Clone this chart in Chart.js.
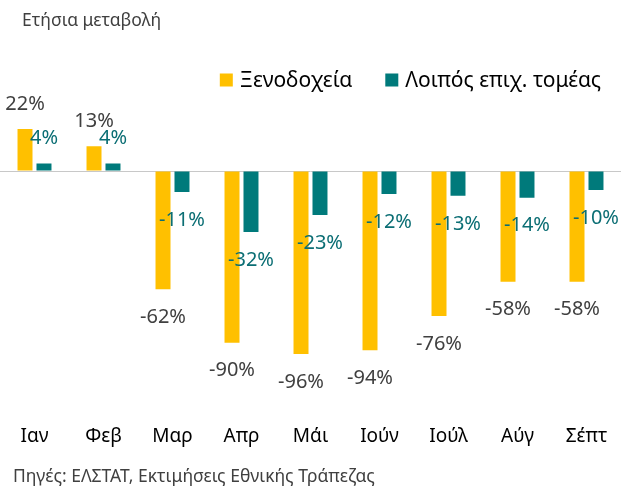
<!DOCTYPE html>
<html>
<head>
<meta charset="utf-8">
<script src="https://cdn.jsdelivr.net/npm/chart.js@4.4.1/dist/chart.umd.min.js"></script>
<style>
  html, body { margin: 0; padding: 0; background: #fff; }
  #wrap { width: 623px; height: 489px; }
</style>
</head>
<body>
<div id="wrap"><canvas id="chart"></canvas></div>
<script>
// data
const months = ['Ιαν', 'Φεβ', 'Μαρ', 'Απρ', 'Μάι', 'Ιούν', 'Ιούλ', 'Αύγ', 'Σέπτ'];
const hotels = [22, 13, -62, -90, -96, -94, -76, -58, -58];
const otherBusiness = [4, 4, -11, -32, -23, -12, -13, -14, -10];
const titleText = 'Ετήσια μεταβολή';
const sourceText = 'Πηγές: ΕΛΣΤΑΤ, Εκτιμήσεις Εθνικής Τράπεζας';

const YELLOW = '#FFC000';
const TEAL = '#007A7B';
const FONT = "'Noto Sans', 'DejaVu Sans', sans-serif";

// value labels on top/below bars
const valueLabels = {
    id: 'valueLabels',
    afterDatasetsDraw(chart) {
        const ctx = chart.ctx;
        ctx.save();
        ctx.font = '20px ' + FONT;
        ctx.textAlign = 'center';
        ctx.textBaseline = 'middle';
        chart.data.datasets.forEach((ds, i) => {
            const meta = chart.getDatasetMeta(i);
            meta.data.forEach((bar, j) => {
                const v = ds.data[j];
                const y = v >= 0 ? bar.y - 25 : bar.y + 28;
                ctx.fillStyle = ds.labelColor;
                ctx.fillText(v + '%', bar.x, y);
            });
        });
        ctx.restore();
    }
};

// title, source note and a right aligned legend
const decorations = {
    id: 'decorations',
    afterDraw(chart) {
        const ctx = chart.ctx;
        ctx.save();
        ctx.textBaseline = 'middle';
        ctx.fillStyle = '#404040';
        ctx.font = '17.5px ' + FONT;
        ctx.fillText(titleText, 22, 21);
        ctx.fillText(sourceText, 13, 477);

        ctx.font = '21px ' + FONT;
        const box = 13, gap = 7, between = 33, yMid = 80, xEnd = 601;
        const items = chart.data.datasets.map(ds => ({ text: ds.label, color: ds.backgroundColor, w: ctx.measureText(ds.label).width }));
        const total = items.reduce((s, it) => s + box + gap + it.w, 0) + between * (items.length - 1);
        let x = xEnd - total;
        items.forEach(it => {
            ctx.fillStyle = it.color;
            ctx.fillRect(x, yMid - box / 2, box, box);
            ctx.fillStyle = '#000';
            ctx.fillText(it.text, x + box + gap, yMid + 1);
            x += box + gap + it.w + between;
        });
        ctx.restore();
    }
};

new Chart(document.getElementById('chart'), {
    type: 'bar',
    data: {
        labels: months,
        datasets: [
            { label: 'Ξενοδοχεία', data: hotels, backgroundColor: YELLOW, labelColor: '#404040',
              categoryPercentage: 0.55, barPercentage: 0.79 },
            { label: 'Λοιπός επιχ. τομέας', data: otherBusiness, backgroundColor: TEAL, labelColor: '#0B6E74',
              categoryPercentage: 0.55, barPercentage: 0.79 }
        ]
    },
    options: {
        responsive: true,
        maintainAspectRatio: false,
        animation: false,
        layout: { padding: { top: 100, left: 0, right: 2, bottom: 33 } },
        plugins: {
            legend: { display: false },
            tooltip: { enabled: false }
        },
        scales: {
            x: {
                grid: { display: false },
                border: { display: false },
                ticks: { color: '#000', font: { family: FONT, size: 19 }, padding: 8 }
            },
            y: {
                min: -124.9,
                max: 37.25,
                ticks: { display: false },
                border: { display: false },
                afterBuildTicks: axis => { axis.ticks = [{ value: 0 }]; },
                grid: { drawTicks: false, color: '#C8C8C8', lineWidth: 1 }
            }
        }
    },
    plugins: [valueLabels, decorations]
});
</script>
</body>
</html>
